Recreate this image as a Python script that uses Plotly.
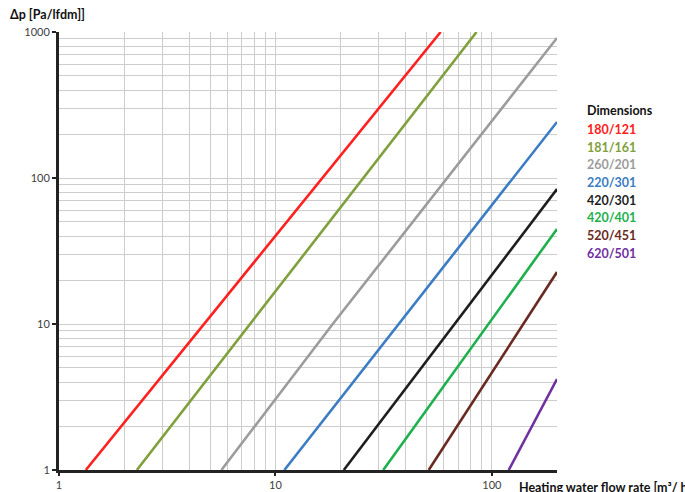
import plotly.graph_objects as go

names = ["180/121", "181/161", "260/201", "220/301", "420/301", "420/401", "520/451", "620/501"]
colors = ["#FF2020", "#7FA03C", "#9C9C9C", "#3C7CC4", "#1E1E1E", "#1EB04C", "#6A2A22", "#7030A0"]
flow = [
    [1.33, 58],
    [2.29, 85],
    [5.63, 18.4, 200],
    [11.0, 200],
    [20.7, 200],
    [31.5, 200],
    [51.1, 200],
    [119.7, 200],
]
dp = [
    [1, 1000],
    [1, 1000],
    [1, 10, 910],
    [1, 242],
    [1, 84],
    [1, 44.8],
    [1, 22.7],
    [1, 4.2],
]
x_ticks = [1, 10, 100]
y_ticks = [1, 10, 100, 1000]

FONT = "Lato, 'Open Sans', sans-serif"
W, H = 685, 492
L, R, T, B = 59, 128, 32, 22

fig = go.Figure()
for n, c, xs, ys in zip(names, colors, flow, dp):
    fig.add_trace(go.Scatter(x=xs, y=ys, mode="lines", name=n,
                             line=dict(color=c, width=2.6), showlegend=False,
                             hoverinfo="skip"))

grid = "#CDCDCD"
fig.update_layout(
    width=W, height=H, autosize=False,
    margin=dict(l=L, r=R, t=T, b=B, autoexpand=False),
    paper_bgcolor="white", plot_bgcolor="white",
    font=dict(family=FONT, size=11, color="#404040"),
    xaxis=dict(type="log", range=[0, 2.30103], tickvals=x_ticks, ticktext=[str(v) for v in x_ticks],
               showgrid=True, gridcolor=grid, gridwidth=1,
               minor=dict(dtick="D1", showgrid=True, gridcolor=grid, gridwidth=1, ticks=""),
               showline=True, linecolor="#222222", linewidth=3,
               ticks="outside", ticklen=3, tickwidth=2, tickcolor="#222222",
               ticklabelstandoff=0, zeroline=False, fixedrange=True),
    yaxis=dict(type="log", range=[0, 3], tickvals=y_ticks, ticktext=[str(v) for v in y_ticks],
               showgrid=True, gridcolor=grid, gridwidth=1,
               minor=dict(dtick="D1", showgrid=True, gridcolor=grid, gridwidth=1, ticks=""),
               showline=True, linecolor="#222222", linewidth=3,
               ticks="outside", ticklen=4, tickwidth=2, tickcolor="#222222",
               zeroline=False, fixedrange=True),
)

pw, ph = W - L - R, H - T - B


def px(x):
    return (x - L) / pw


def py(y):
    return 1 - (y - T) / ph


ann = [
    dict(text="<b>Δp [Pa/lfdm]]</b>", x=8, y=15),
    dict(text="<b>Heating water flow rate [m³/ h]</b>", x=517, y=487),
    dict(text="<b>Dimensions</b>", x=585, y=110),
]
for a in ann:
    fig.add_annotation(text=a["text"], xref="paper", yref="paper",
                       x=px(a["x"]), y=py(a["y"]),
                       xanchor="left", yanchor="middle", showarrow=False,
                       font=dict(family=FONT, size=12.5, color="#111111"))

ys_leg = [129.3, 147.3, 165, 182.7, 200, 217.7, 235.3, 253]
for n, c, yy in zip(names, colors, ys_leg):
    fig.add_annotation(text=f"<b>{n}</b>", xref="paper", yref="paper",
                       x=px(585), y=py(yy),
                       xanchor="left", yanchor="middle", showarrow=False,
                       font=dict(family=FONT, size=12.5, color=c))

post = ("document.body.style.margin='0px';document.body.style.overflow='hidden';"
        "Plotly.relayout('{plot_id}', {width: 685, height: 492});")
fig.write_html("out.html", post_script=post,
               config={"responsive": False, "displayModeBar": False})
